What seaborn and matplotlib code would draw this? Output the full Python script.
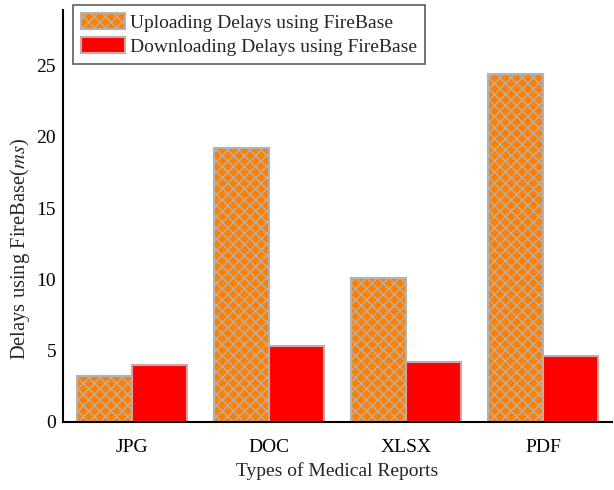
import matplotlib
matplotlib.use("Agg")
import matplotlib.pyplot as plt
import seaborn as sns
import pandas as pd

# Report types and measured delays (ms)
categories = ["JPG", "DOC", "XLSX", "PDF"]
upload_delays = [3.2, 19.2, 10.1, 24.4]
download_delays = [4.0, 5.3, 4.2, 4.6]
series_names = ["Uploading Delays using FireBase", "Downloading Delays using FireBase"]
y_ticks = [0, 5, 10, 15, 20, 25]

sns.set_theme(style="white")
plt.rcParams["font.family"] = ["Liberation Serif", "DejaVu Serif"]
plt.rcParams["mathtext.fontset"] = "stix"
plt.rcParams["hatch.linewidth"] = 1.0

df = pd.DataFrame({
    "Report": categories * 2,
    "Delay": upload_delays + download_delays,
    "Series": [series_names[0]] * len(categories) + [series_names[1]] * len(categories),
})

fig = plt.figure(figsize=(6.14, 4.9), dpi=100)
ax = fig.add_axes([0.1026, 0.1388, 0.894, 0.841])

sns.barplot(data=df, x="Report", y="Delay", hue="Series", order=categories,
            hue_order=series_names, palette=["#ff8000", "#ff0000"],
            saturation=1, width=0.8, legend=False, ax=ax)

for patch in ax.containers[0]:
    patch.set_hatch("xxx")
    patch.set_edgecolor("#b2b2b2")
    patch.set_linewidth(1.5)
for patch in ax.containers[1]:
    patch.set_edgecolor("#cca6a6")
    patch.set_linewidth(1.5)

ax.set_ylim(0, 28.9)
ax.set_xlim(-0.5, 3.5)
ax.set_yticks(y_ticks)
ax.set_ylabel(r"Delays using FireBase($\mathit{ms}$)", fontsize=14.8)
ax.yaxis.set_label_coords(-0.057, 0.42)
ax.set_xlabel("Types of Medical Reports", fontsize=14, labelpad=5)
ax.tick_params(axis="both", length=0, labelsize=14, colors="black")
ax.tick_params(axis="x", pad=12)
ax.tick_params(axis="y", pad=5)

for side in ["top", "right"]:
    ax.spines[side].set_visible(False)
for side in ["left", "bottom"]:
    ax.spines[side].set_color("black")
    ax.spines[side].set_linewidth(1.5)

leg = ax.legend(handles=[ax.containers[0], ax.containers[1]], labels=series_names,
                loc="upper left", bbox_to_anchor=(0.018, 1.012), fontsize=14,
                frameon=True, fancybox=False, edgecolor="#333333",
                handlelength=2.3, handleheight=0.9, handletextpad=0.25,
                labelspacing=0.3, borderpad=0.4, borderaxespad=0.0)
leg.get_frame().set_linewidth(1.2)

fig.savefig("out.png", dpi=100)
